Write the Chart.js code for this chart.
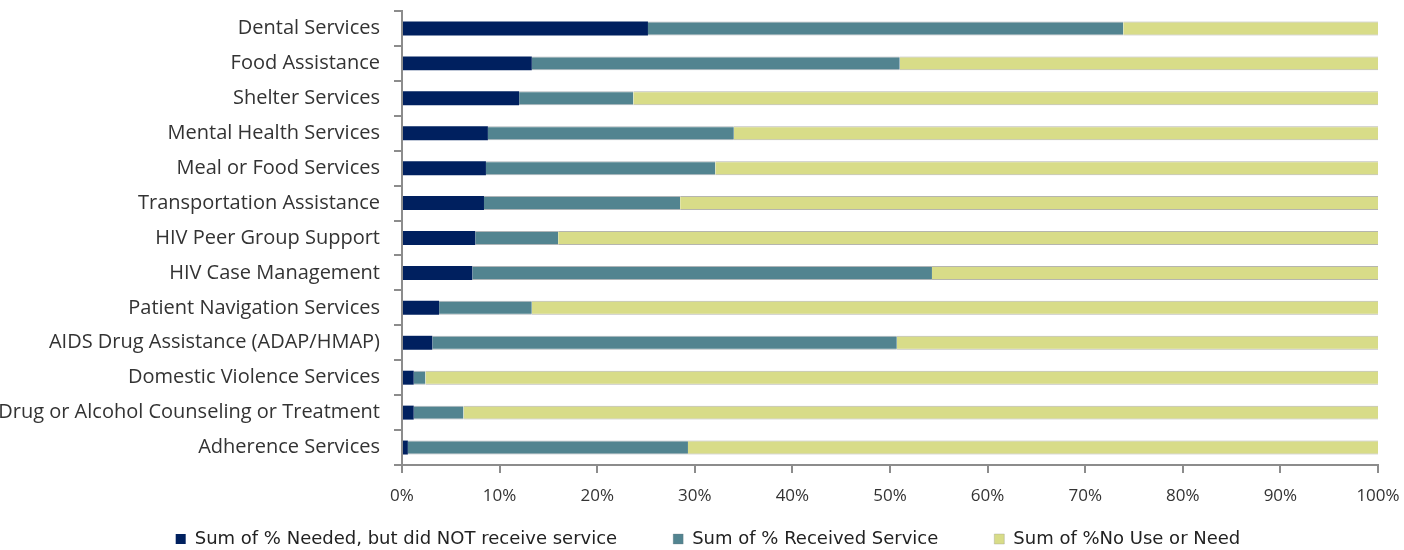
<!DOCTYPE html>
<html>
<head>
<meta charset="utf-8">
<script src="https://cdn.jsdelivr.net/npm/chart.js@4/dist/chart.umd.min.js"></script>
<style>
  body { margin: 0; background: #fff; }
  #wrap { width: 1404px; height: 550px; }
</style>
</head>
<body>
<div id="wrap"><canvas id="servicesChart" width="1404" height="550"></canvas></div>
<script>
// categories top to bottom, values in percent
var categories = [
    "Dental Services",
    "Food Assistance",
    "Shelter Services",
    "Mental Health Services",
    "Meal or Food Services",
    "Transportation Assistance",
    "HIV Peer Group Support",
    "HIV Case Management",
    "Patient Navigation Services",
    "AIDS Drug Assistance (ADAP/HMAP)",
    "Domestic Violence Services",
    "Drug or Alcohol Counseling or Treatment",
    "Adherence Services"
];
var neededNotReceived = [25.2, 13.3, 12.0, 8.8, 8.6, 8.4, 7.5, 7.2, 3.8, 3.1, 1.2, 1.2, 0.6];
var receivedService = [48.7, 37.7, 11.7, 25.2, 23.5, 20.1, 8.5, 47.1, 9.5, 47.6, 1.2, 5.1, 28.7];
var noUseOrNeed = [26.1, 49.0, 76.3, 66.0, 67.9, 71.5, 84.0, 45.7, 86.7, 49.3, 97.6, 93.7, 70.7];
var seriesNames = [
    "Sum of % Needed, but did NOT receive service",
    "Sum of % Received Service",
    "Sum of %No Use or Need"
];
var xTicks = [0, 10, 20, 30, 40, 50, 60, 70, 80, 90, 100];

var fontFamily = "'Open Sans', Lato, sans-serif";
var legendFont = "'DejaVu Sans', 'Open Sans', sans-serif";
var axisGrey = "#8c8c8c";

var barData = {
    labels: categories,
    datasets: [
        {
            label: seriesNames[0],
            data: neededNotReceived,
            backgroundColor: "#00205f",
            borderWidth: 0
        },
        {
            label: seriesNames[1],
            data: receivedService,
            backgroundColor: "#528490",
            borderColor: "rgba(110,120,125,0.55)",
            borderWidth: {top: 1, bottom: 1, left: 0, right: 0}
        },
        {
            label: seriesNames[2],
            data: noUseOrNeed,
            backgroundColor: "#d8dc88",
            borderColor: "rgba(150,150,140,0.7)",
            borderWidth: {top: 1, bottom: 1, left: 0, right: 0}
        }
    ]
};

var chart = new Chart(document.getElementById("servicesChart"), {
    type: "bar",
    data: barData,
    options: {
        indexAxis: "y",
        responsive: false,
        animation: false,
        devicePixelRatio: 1,
        barPercentage: 0.4,
        categoryPercentage: 1,
        layout: {
            // legend padding is wide (gaps between items), so let it hang a bit below;
            // left padding centres the legend like the original
            padding: {top: 11, right: 26, bottom: -8, left: 38}
        },
        plugins: {
            tooltip: {enabled: false},
            legend: {
                position: "bottom",
                labels: {
                    boxWidth: 10,
                    boxHeight: 10,
                    padding: 56,
                    color: "#222",
                    font: {family: legendFont, size: 18}
                }
            }
        },
        scales: {
            x: {
                stacked: true,
                min: 0,
                max: 100,
                afterBuildTicks: function(scale){
                    scale.ticks = xTicks.map(function(v){ return {value: v}; });
                },
                afterFit: function(scale){
                    scale.height = 9;
                    scale.paddingLeft = 0;
                    scale.paddingRight = 0;
                    // labels sit below the shrunk box, don't clip them
                    scale._computeLabelArea = function(){ return null; };
                },
                ticks: {
                    callback: function(v){ return v + "%"; },
                    color: "#333",
                    padding: 13,
                    maxRotation: 0,
                    font: {family: fontFamily, size: 17}
                },
                grid: {
                    drawOnChartArea: false,
                    drawTicks: true,
                    tickLength: 8,
                    color: axisGrey,
                    lineWidth: 2
                },
                border: {color: axisGrey, width: 2}
            },
            y: {
                stacked: true,
                afterFit: function(scale){
                    scale.width = 364;
                    scale.paddingTop = 0;
                    scale.paddingBottom = 0;
                    // longest label runs to the canvas edge
                    scale._computeLabelArea = function(){ return null; };
                },
                ticks: {
                    color: "#333",
                    padding: 14,
                    autoSkip: false,
                    font: {family: fontFamily, size: 20}
                },
                grid: {
                    offset: true,
                    drawOnChartArea: false,
                    drawTicks: true,
                    tickLength: 8,
                    color: axisGrey,
                    lineWidth: 2
                },
                border: {color: axisGrey, width: 2}
            }
        }
    }
});
</script>
</body>
</html>
